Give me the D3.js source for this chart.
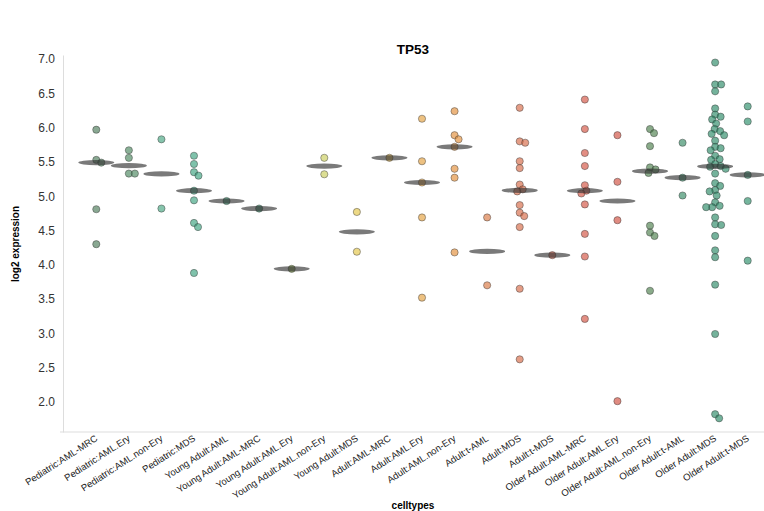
<!DOCTYPE html>
<html><head><meta charset="utf-8">
<script src="https://cdn.jsdelivr.net/npm/d3@7"></script>
<style>
body{margin:0;background:#fff;}
text{font-family:"Liberation Sans",Arial,Helvetica,sans-serif;}
</style>
</head><body>
<svg id="chart" width="764" height="511"></svg>
<script>
// ---- data ----
const categories = [
  "Pediatric:AML-MRC","Pediatric:AML.Ery","Pediatric:AML.non-Ery","Pediatric:MDS",
  "Young Adult:AML","Young Adult:AML-MRC","Young Adult:AML.Ery","Young Adult:AML.non-Ery","Young Adult:MDS",
  "Adult:AML-MRC","Adult:AML.Ery","Adult:AML.non-Ery","Adult:t-AML","Adult:MDS","Adult:t-MDS",
  "Older Adult:AML-MRC","Older Adult:AML.Ery","Older Adult:AML.non-Ery","Older Adult:t-AML","Older Adult:MDS","Older Adult:t-MDS"
];
const pedAmlMrc = [5.97, 5.53, 5.49, 4.81, 4.30];
const pedAmlEry = [5.67, 5.56, 5.33, 5.33];
const pedAmlNonEry = [5.83, 4.82];
const pedMds = [5.59, 5.47, 5.35, 5.30, 5.08, 4.94, 4.61, 4.55, 3.88];
const yaAml = [4.93];
const yaAmlMrc = [4.82];
const yaAmlEry = [3.94];
const yaAmlNonEry = [5.56, 5.32];
const yaMds = [4.77, 4.19];
const adAmlMrc = [5.56];
const adAmlEry = [6.13, 5.51, 5.20, 4.69, 3.52];
const adAmlNonEry = [6.24, 5.89, 5.83, 5.72, 5.40, 5.27, 4.18];
const adTAml = [4.69, 3.70];
const adMds = [6.29, 5.80, 5.78, 5.51, 5.41, 5.17, 5.10, 5.07, 4.87, 4.76, 4.71, 4.55, 3.65, 2.62];
const adTMds = [4.14];
const oaAmlMrc = [6.41, 5.98, 5.63, 5.44, 5.16, 5.08, 5.04, 4.88, 4.45, 4.12, 3.21];
const oaAmlEry = [5.89, 5.21, 4.65, 2.01];
const oaAmlNonEry = [5.98, 5.92, 5.73, 5.42, 5.39, 5.34, 4.57, 4.47, 4.42, 3.62];
const oaTAml = [5.78, 5.27, 5.01];
const oaMds = [6.95, 6.63, 6.63, 6.53, 6.28, 6.19, 6.16, 6.12, 6.06, 5.98, 5.95, 5.91, 5.89, 5.81,
  5.72, 5.70, 5.67, 5.59, 5.54, 5.53, 5.47, 5.44, 5.43, 5.40, 5.33, 5.19, 5.15, 5.09, 5.07, 5.01,
  4.91, 4.86, 4.84, 4.84, 4.69, 4.59, 4.58, 4.42, 4.21, 4.11, 3.71, 2.99, 1.82, 1.76];
const oaTMds = [6.31, 6.09, 5.31, 4.93, 4.06];
const yTickValues = [2.0, 2.5, 3.0, 3.5, 4.0, 4.5, 5.0, 5.5, 6.0, 6.5, 7.0];

const seriesValues = [pedAmlMrc, pedAmlEry, pedAmlNonEry, pedMds,
  yaAml, yaAmlMrc, yaAmlEry, yaAmlNonEry, yaMds,
  adAmlMrc, adAmlEry, adAmlNonEry, adTAml, adMds, adTMds,
  oaAmlMrc, oaAmlEry, oaAmlNonEry, oaTAml, oaMds, oaTMds];

// ---- styles ----
const colors = [
  "#4a7a58","#4a865e","#45a580","#3ba27e",
  "#227e5b","#227754","#698630","#cacd5b","#e4c445",
  "#d4a230","#e49f3e","#e28d37","#d87741","#d56945","#cd543e",
  "#d35141","#d04d3e","#4c7e4c","#338863","#298866","#298d69"
];

const svg = d3.select("#chart");
const x = d3.scaleBand().domain(categories).range([80, 764]);
const y = d3.scaleLinear().domain([1.56, 7.06]).range([432, 55]);
const color = d3.scaleOrdinal().domain(categories).range(colors);

// axes
const yAxis = svg.append("g").attr("transform","translate(63,0)")
  .call(d3.axisLeft(y).tickValues(yTickValues).tickFormat(d3.format(".1f")).tickSize(0).tickPadding(8));
yAxis.select(".domain").attr("stroke","#ddd");
yAxis.selectAll("text").attr("font-size",12).attr("fill","#333");

const xAxis = svg.append("g").attr("transform","translate(0,432)")
  .call(d3.axisBottom(x).tickSize(0));
xAxis.select(".domain").remove();
xAxis.append("line").attr("x1",60).attr("x2",764).attr("stroke","#ddd");
xAxis.selectAll(".tick text")
  .attr("font-size",9.5).attr("fill","#222")
  .attr("text-anchor","end").attr("y",0).attr("dy",0)
  .attr("transform","translate(2,8) rotate(-33)");

// points (beeswarm)
const R = 3.6, D = 5.6;
const points = [];
categories.forEach((c,ci) => {
  const vals = seriesValues[ci];
  const cx = x(c) + x.bandwidth()/2;
  const placed = [];
  vals.map((v,i)=>({v,i})).sort((a,b)=>b.v-a.v).forEach(({v}) => {
    const py = y(v);
    let off = 0;
    for (let k=0;k<400;k++){
      const o = (k%2===1 ? 1 : -1) * Math.ceil(k/2) * 0.5;
      if (placed.every(p => Math.hypot(p.x-(cx+o), p.y-py) >= D)) { off = o; break; }
    }
    placed.push({x:cx+off, y:py});
    points.push({c, v, px:cx+off, py});
  });
});

svg.append("g").selectAll("circle").data(points).join("circle")
  .attr("cx",d=>d.px).attr("cy",d=>d.py).attr("r",R)
  .attr("fill",d=>color(d.c)).attr("fill-opacity",0.65)
  .attr("stroke","#333").attr("stroke-opacity",0.55).attr("stroke-width",0.8);

// medians
const medians = categories.map((c,ci)=>({c, m:d3.median(seriesValues[ci])}));
svg.append("g").selectAll("ellipse").data(medians).join("ellipse")
  .attr("cx",d=>x(d.c)+x.bandwidth()/2).attr("cy",d=>y(d.m))
  .attr("rx",18).attr("ry",2.6)
  .attr("fill","#333").attr("fill-opacity",0.65);

// titles
svg.append("text").attr("x",413).attr("y",54).attr("text-anchor","middle")
  .attr("font-size",13.5).attr("font-weight","bold").attr("fill","#000").text("TP53");
svg.append("text").attr("transform","translate(19,244) rotate(-90)").attr("text-anchor","middle")
  .attr("font-size",10).attr("font-weight","bold").attr("fill","#000").text("log2 expression");
svg.append("text").attr("x",413).attr("y",509).attr("text-anchor","middle")
  .attr("font-size",10).attr("font-weight","bold").attr("fill","#000").text("celltypes");
</script>
</body></html>
